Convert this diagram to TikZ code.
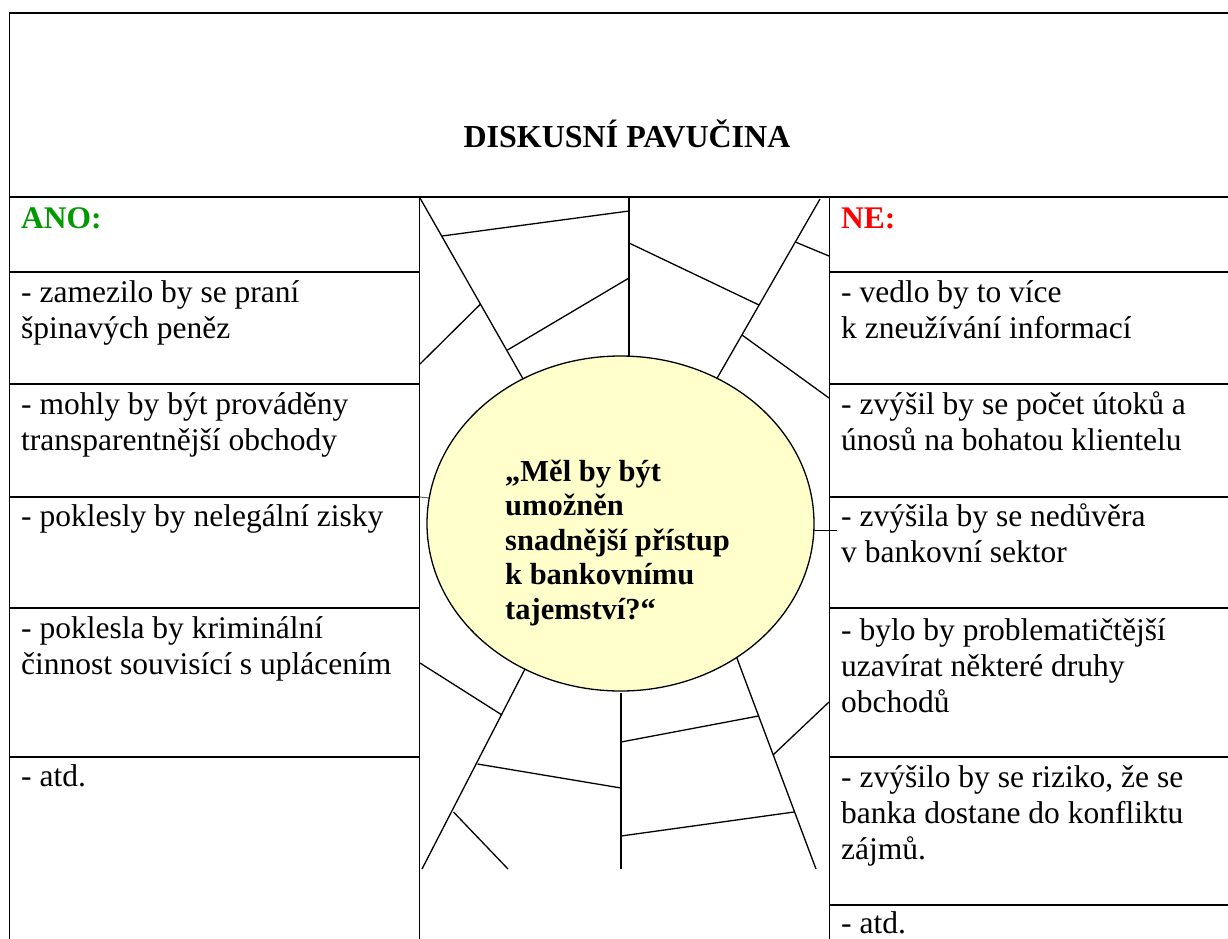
\documentclass[tikz,border=0pt]{standalone}
\usepackage{fontspec}
\setmainfont{Liberation Serif}
\usetikzlibrary{shapes.geometric}
\definecolor{anogreen}{RGB}{0,153,0}
\definecolor{nered}{RGB}{255,0,0}
\definecolor{eyellow}{RGB}{255,255,204}
\newcommand{\celllines}[1]{\begin{tabular}[t]{@{}l@{}}#1\end{tabular}}
\tikzset{
  gridline/.style={line width=1.9pt, line cap=rect},
  webline/.style={line width=1.3pt},
  celltext/.style={anchor=base west, inner sep=0pt, font=\fontsize{31.5}{36}\selectfont},
  headtext/.style={anchor=base west, inner sep=0pt, font=\bfseries\fontsize{31.5}{36}\selectfont},
  qtext/.style={anchor=base west, inner sep=0pt, font=\bfseries\fontsize{30.5}{34.5}\selectfont},
  bubble/.style={ellipse, draw, fill=eyellow, line width=1.3pt, inner sep=0pt,
                 minimum width=387pt, minimum height=335pt},
}
\begin{document}
\begin{tikzpicture}[x=1pt,y=-1pt]
\useasboundingbox (0,0) rectangle (1228,938);

% table frame
\draw[gridline] (9.5,960) -- (9.5,13) -- (1245,13);
\draw[gridline] (9.5,197) -- (1245,197);
\draw[gridline] (419.5,197) -- (419.5,960);
\draw[gridline] (829.5,197) -- (829.5,960);
\foreach \y in {272,384,497,608,757}
  \draw[gridline] (9.5,\y) -- (419.5,\y);
\foreach \y in {272,384,497,608,757,905}
  \draw[gridline] (829.5,\y) -- (1245,\y);

% title
\node[anchor=base, inner sep=0pt, font=\bfseries\fontsize{32}{36}\selectfont] (title) at (627,147) {DISKUSNÍ PAVUČINA};

% web: upper part
\draw[webline] (420,198) -- (523,378.8);
\draw[webline] (442,236) -- (629,211);
\draw[webline] (629,198) -- (629,357);
\draw[webline] (480.6,304) -- (420,364);
\draw[webline] (507.5,350) -- (629,278);
\draw[webline] (629,243) -- (759,305);
\draw[webline] (820,199) -- (717,378.3);
\draw[webline] (795.3,242) -- (829,256);
\draw[webline] (742,335) -- (829,398);
% web: lower part
\draw[webline] (525,669) -- (422,869);
\draw[webline] (420,663) -- (502,715);
\draw[webline] (477.5,764) -- (621,788);
\draw[webline] (453.5,812) -- (508,869);
\draw[webline] (621,693) -- (621,869);
\draw[webline] (621,742) -- (758.5,716);
\draw[webline] (736.5,657) -- (816,869);
\draw[webline] (773,755) -- (829,702);
\draw[webline] (621,836) -- (794,812);
% short side links
\draw[line width=1pt, black!60] (419.5,497) -- (430,498);
\draw[line width=1pt] (812,530) -- (837,530);

% central question
\node[bubble] (q) at (620.5,523.5) {};
\node[qtext] (qt) at (505,481) {\begin{tabular}[t]{@{}l@{}}„Měl by být\\umožněn\\snadnější přístup\\k bankovnímu\\tajemství?“\end{tabular}};

% left column
\node[headtext, text=anogreen] (ano) at (21,228) {ANO:};
\node[celltext] (a1) at (21,302) {\celllines{- zamezilo by se praní\\špinavých peněz}};
\node[celltext] (a2) at (21,414) {\celllines{- mohly by být prováděny\\transparentnější obchody}};
\node[celltext] (a3) at (21,526) {\celllines{- poklesly by nelegální zisky}};
\node[celltext] (a4) at (21,638) {\celllines{- poklesla by kriminální\\činnost souvisící s uplácením}};
\node[celltext] (a5) at (21,786) {\celllines{- atd.}};

% right column
\node[headtext, text=nered] (ne) at (841,228) {NE:};
\node[celltext] (n1) at (841,302) {\celllines{- vedlo by to více\\k zneužívání informací}};
\node[celltext] (n2) at (841,414) {\celllines{- zvýšil by se počet útoků a\\únosů na bohatou klientelu}};
\node[celltext] (n3) at (841,526) {\celllines{- zvýšila by se nedůvěra\\v bankovní sektor}};
\node[celltext] (n4) at (841,640) {\celllines{- bylo by problematičtější\\uzavírat některé druhy\\obchodů}};
\node[celltext] (n5) at (841,787) {\celllines{- zvýšilo by se riziko, že se\\banka dostane do konfliktu\\zájmů.}};
\node[celltext] (n6) at (841,933) {\celllines{- atd.}};
\end{tikzpicture}
\end{document}
